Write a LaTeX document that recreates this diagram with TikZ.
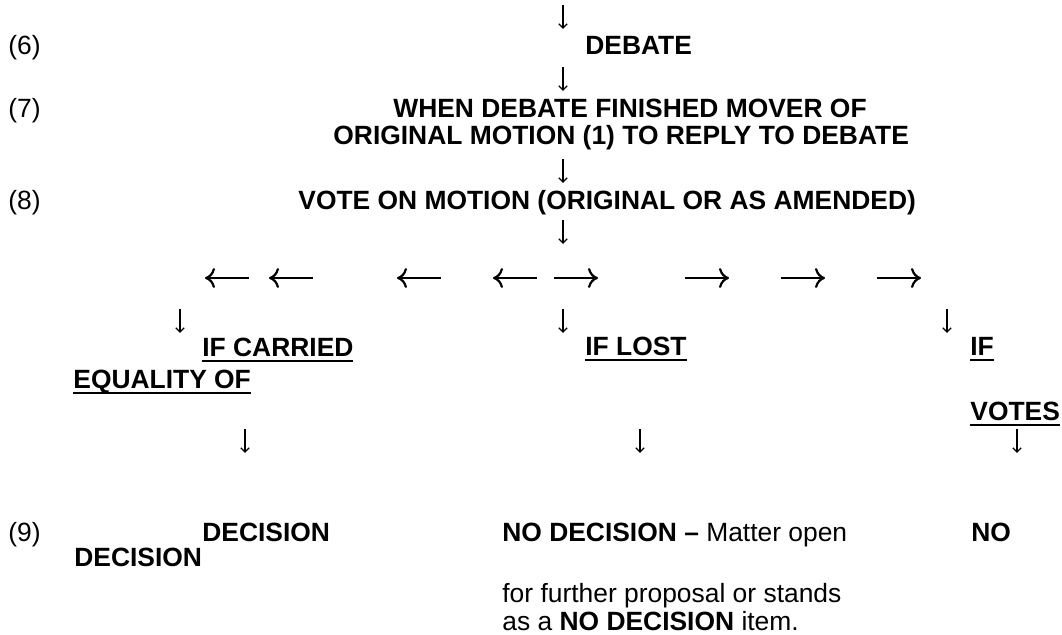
\documentclass[tikz,border=0pt]{standalone}
\usepackage{fontspec}
\setmainfont{Liberation Sans}
\usetikzlibrary{arrows.meta}
\newcommand{\ulbox}[1]{\setbox0\hbox{#1}\rlap{\rule[-3pt]{\wd0}{1.2pt}}\box0}
\begin{document}
\begin{tikzpicture}[x=0.5pt,y=-0.5pt,
	every node/.style={inner sep=0pt, font=\fontsize{13.2}{15}\selectfont},
	txt/.style={anchor=base west},
	harr/.style={-{Computer Modern Rightarrow[length=5pt,width=10pt]}, line width=1.1pt},
	varr/.style={-{Straight Barb[length=2.2pt,width=4.2pt]}, line width=0.6pt}]
					\useasboundingbox (0,0) rectangle (1062,634);
					%step numbers
					\node[txt] (n6) at (8,54) {(6)};
					\node[txt] (n7) at (8,117) {(7)};
					\node[txt] (n8) at (8,209) {(8)};
					\node[txt] (n9) at (8,541) {(9)};
					%steps
					\node[txt] (debate) at (585,54) {\textbf{DEBATE}};
					\node[txt] (when) at (393,117) {\textbf{WHEN DEBATE FINISHED MOVER OF}};
					\node[txt] (orig) at (333,144) {\textbf{ORIGINAL MOTION (1) TO REPLY TO DEBATE}};
					\node[txt] (vote) at (298,209) {\textbf{VOTE ON MOTION (ORIGINAL OR AS AMENDED)}};
					%down arrows
					\foreach \n/\a/\b in {d1/563/17, d2/563/79, d3/563/171, d4/563/232,
						dl/180/321, dm/563/321, dr/947/321, el/245/441, em/640/441, er/1017/441}{
						\coordinate (\n s) at (\a,\b-12);
						\coordinate (\n e) at (\a,\b+12);
						\draw[varr] (\n s) -- (\n e);
					}
					%split left and right
					\foreach \n/\a in {l1/227, l2/291, l3/419, l4/515}{
						\coordinate (\n s) at (\a+22,278);
						\coordinate (\n e) at (\a-22,278);
						\draw[harr] (\n s) -- (\n e);
					}
					\foreach \n/\a in {r1/576, r2/707, r3/803, r4/899}{
						\coordinate (\n s) at (\a-22,278);
						\coordinate (\n e) at (\a+22,278);
						\draw[harr] (\n s) -- (\n e);
					}
					%cases
					\node[txt] (carried) at (202,356) {\textbf{\ulbox{IF CARRIED}}};
					\node[txt] (lost) at (585,355) {\textbf{\ulbox{IF LOST}}};
					\node[txt] (eqif) at (970,355) {\textbf{\ulbox{IF}}};
					\node[txt] (eqof) at (73,388) {\textbf{\ulbox{EQUALITY OF}}};
					\node[txt] (votes) at (970,420) {\textbf{\ulbox{VOTES}}};
					%outcomes
					\node[txt] (dec) at (202,541) {\textbf{DECISION}};
					\node[txt] (dec2) at (74,566) {\textbf{DECISION}};
					\node[txt] (nodec) at (502,541) {\textbf{NO DECISION –} Matter open};
					\node[txt] (more) at (502,602) {for further proposal or stands};
					\node[txt] (item) at (502,630) {as a \textbf{NO DECISION} item.};
					\node[txt] (no) at (971,541) {\textbf{NO}};
				\end{tikzpicture}
\end{document}
